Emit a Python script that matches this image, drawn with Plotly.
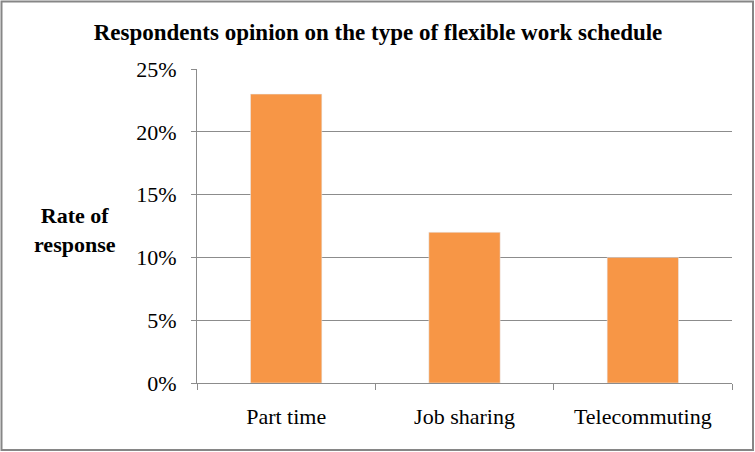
import plotly.graph_objects as go

categories = ["Part time", "Job sharing", "Telecommuting"]
values = [0.23, 0.12, 0.10]
y_ticks = [0, 0.05, 0.10, 0.15, 0.20, 0.25]
y_tick_labels = ["0%", "5%", "10%", "15%", "20%", "25%"]

grid = "#8c8c8c"
serif = "Liberation Serif"

L, R, T, B = 197, 23, 69, 69
W, H = 755, 452
pw, ph = W - L - R, H - T - B

fig = go.Figure(go.Bar(x=categories, y=values, marker_color="#F79646", width=0.4,
                       hoverinfo="skip"))

fig.update_layout(
    width=W, height=H,
    margin=dict(l=L, r=R, t=T, b=B),
    paper_bgcolor="white", plot_bgcolor="white",
    showlegend=False,
    font=dict(family=serif, size=21, color="black"),
    title=dict(text="<b>Respondents opinion on the type of flexible work schedule</b>",
               x=(378 - L) / pw, xref="paper", xanchor="center",
               y=1 - 32 / H, yanchor="middle",
               font=dict(family=serif, size=23, color="black")),
)
fig.add_shape(type="rect", xref="paper", yref="paper",
              x0=-(L - 1.5) / pw, x1=1 + (R - 2) / pw,
              y0=-(B - 2) / ph, y1=1 + (T - 1.5) / ph,
              line=dict(color="#868686", width=2))

fig.update_xaxes(showline=True, linecolor=grid, linewidth=1,
                 ticks="outside", tickson="boundaries", ticklen=6, tickcolor=grid,
                 tickfont=dict(size=22), ticklabelstandoff=14, showgrid=False)
fig.update_yaxes(range=[0, 0.25], tickvals=y_ticks, ticktext=y_tick_labels,
                 showline=True, linecolor=grid, linewidth=1,
                 ticks="outside", ticklen=5, tickcolor=grid,
                 showgrid=True, gridcolor=grid, gridwidth=1,
                 tickfont=dict(size=22), ticklabelstandoff=10, zeroline=False)

fig.add_annotation(text="<b>Rate of<br>response</b>", xref="paper", yref="paper",
                   x=-(L - 75) / pw, y=(H - B - 230) / ph, xanchor="center", yanchor="middle",
                   showarrow=False, font=dict(family=serif, size=22, color="black"),
                   align="center")

fig.write_html("out.html", config={"displayModeBar": False},
               post_script="document.body.style.margin='0';")
